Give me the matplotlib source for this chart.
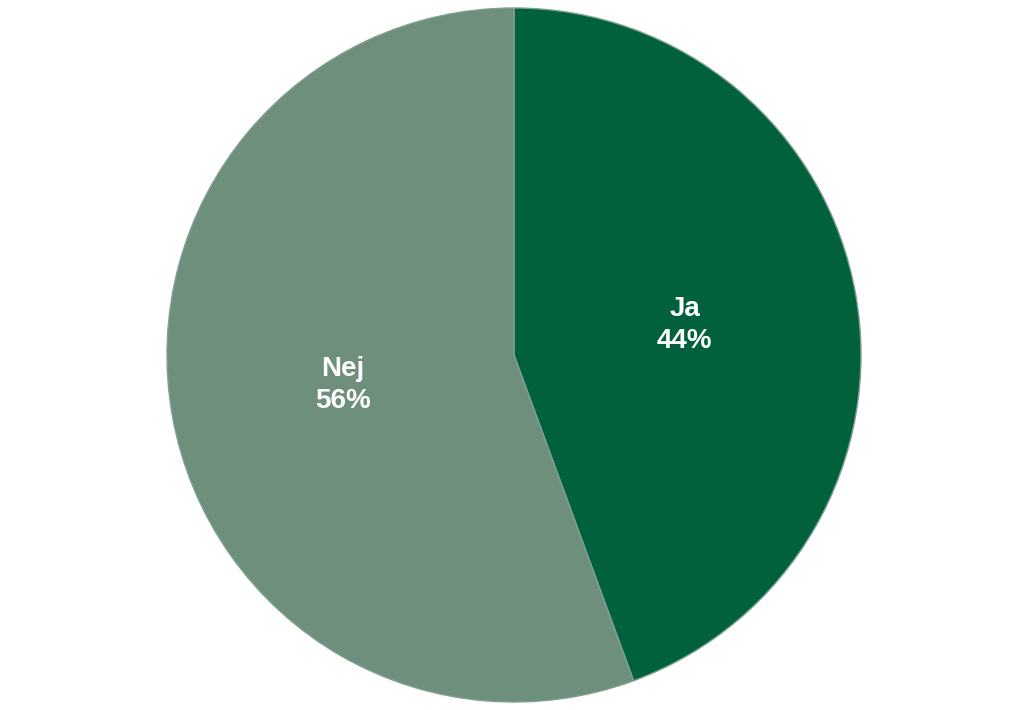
import matplotlib
matplotlib.use("Agg")
import matplotlib.pyplot as plt

labels = ["Ja", "Nej"]
values = [44.4, 55.6]
colors = ["#00613C", "#6D8F7C"]

fig = plt.figure(figsize=(10.3, 7.1), dpi=100)
ax = fig.add_axes([167/1030, 8/710, 694/1030, 694/710])

def fmt(label_iter):
    it = iter(label_iter)
    def f(pct):
        return f"{next(it)}\n{pct:.0f}%"
    return f

wedges, texts, autotexts = ax.pie(
    values, colors=colors, startangle=90, counterclock=False,
    autopct=fmt(labels), pctdistance=0.5,
    wedgeprops=dict(edgecolor="#7FA090", linewidth=1.0),
    textprops=dict(color="white", fontsize=20, fontweight="bold",
                   family="Liberation Sans", linespacing=1.3),
)
ax.set_aspect("equal")
ax.set_xlim(-1, 1)
ax.set_ylim(-1, 1)
ax.axis("off")
fig.savefig("out.png", dpi=100, facecolor="white")
